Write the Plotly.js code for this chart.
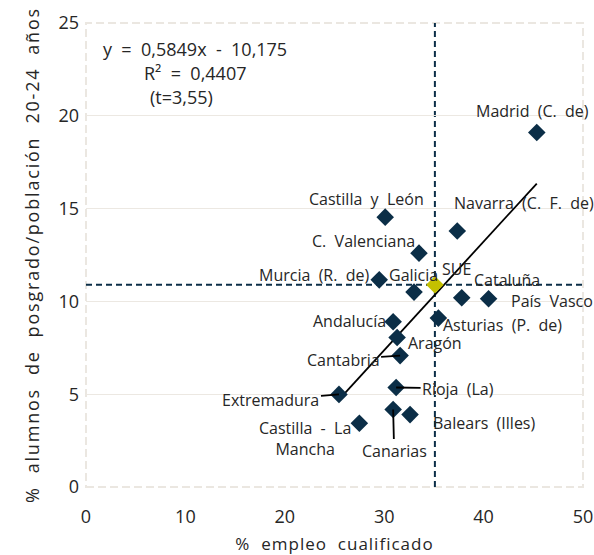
<!DOCTYPE html>
<html><head><meta charset="utf-8">
<script src="https://cdn.plot.ly/plotly-3.0.1.min.js"></script>
<style>html,body{margin:0;padding:0;background:#fff}
.g-xtitle text{letter-spacing:1px}
.g-ytitle text{letter-spacing:1.8px}</style>
</head><body>
<div id="chart" style="width:594px;height:555px"></div>
<script>
// Regions (Comunidades Autónomas)
const regions = ["Madrid (C. de)","Castilla y León","Navarra (C. F. de)","C. Valenciana","Murcia (R. de)","Galicia","Cataluña","País Vasco","Asturias (P. de)","Andalucía","Aragón","Cantabria","Rioja (La)","Extremadura","Canarias","Balears (Illes)","Castilla - La<br>Mancha"];
const empleo = [45.35, 30.1, 37.35, 33.5, 29.5, 33.0, 37.8, 40.5, 35.45, 30.9, 31.3, 31.6, 31.2, 25.45, 30.9, 32.6, 27.5];
const posgrado = [19.1, 14.54, 13.79, 12.6, 11.16, 10.5, 10.2, 10.14, 9.1, 8.9, 8.05, 7.08, 5.36, 4.99, 4.18, 3.9, 3.43];
// SUE (Sistema Universitario Español) average
const sueX = [35.1];
const sueY = [10.9];
// Trend line endpoints (y = 0,5849x - 10,175)
const trendX = [25.45, 45.35];
const trendY = [4.71, 16.35];
const eqLines = ["y = 0,5849x - 10,175", "R² = 0,4407", "(t=3,55)"];
const xTicks = [0,10,20,30,40,50];
const yTicks = [0,5,10,15,20,25];

const navy = "#0b2e47";
const FONT = "'Open Sans', sans-serif";
const TXT = "#262626";
const sp = s => s.replace(/ /g, "\u00a0\u00a0");

// label offsets (pixels) relative to each point
const labelPos = {
  "Madrid (C. de)": {dx:-4, dy:-22},
  "Castilla y León": {dx:-19, dy:-18},
  "Navarra (C. F. de)": {dx:67, dy:-28},
  "C. Valenciana": {dx:-55, dy:-12},
  "Murcia (R. de)": {dx:-65, dy:-5},
  "Galicia": {dx:-1, dy:-17},
  "Cataluña": {dx:45, dy:-18},
  "País Vasco": {dx:63, dy:2},
  "Asturias (P. de)": {dx:64, dy:7},
  "Andalucía": {dx:-44, dy:-1},
  "Aragón": {dx:38, dy:5},
  "Cantabria": {dx:-57, dy:4, arrow:true},
  "Rioja (La)": {dx:62, dy:1, arrow:true},
  "Extremadura": {dx:-68, dy:6, arrow:true},
  "Canarias": {dx:1, dy:42, arrow:true},
  "Balears (Illes)": {dx:74, dy:8},
  "Castilla - La<br>Mancha": {dx:-54, dy:15}
};

const annotations = [];
regions.forEach((r,i)=>{
  const p = labelPos[r];
  const base = {x:empleo[i], y:posgrado[i], xref:"x", yref:"y", text:sp(r),
      font:{family:FONT,size:16,color:TXT}};
  if (p.arrow) {
    annotations.push(Object.assign(base, {showarrow:true, arrowhead:0, arrowwidth:1.8,
      arrowcolor:"#000", ax:p.dx, ay:p.dy, standoff:0}));
  } else {
    annotations.push(Object.assign(base, {showarrow:false, xshift:p.dx, yshift:-p.dy,
      xanchor:"center", yanchor:"middle"}));
  }
});
annotations.push({x:sueX[0], y:sueY[0], xref:"x", yref:"y", text:"SUE", showarrow:false,
  xshift:22, yshift:16, font:{family:FONT,size:16,color:TXT}});
// equation
const eqPos = [[195,49],[195,73],[181,97]];
eqLines.forEach((t,k)=>{
  annotations.push({x:(eqPos[k][0]-86)/497, y:(487-eqPos[k][1])/464, xref:"paper", yref:"paper",
    text:sp(t), showarrow:false, xanchor:"center", yanchor:"middle",
    font:{family:FONT,size:18,color:TXT}});
});

const traces = [
  {x:trendX, y:trendY, mode:"lines", line:{color:"#000", width:1.8}, hoverinfo:"skip"},
  {x:empleo, y:posgrado, mode:"markers", marker:{symbol:"diamond", size:13.5, color:navy}, text:regions},
  {x:sueX, y:sueY, mode:"markers", marker:{symbol:"diamond", size:13.5, color:"#c4c000"}}
];

const shapes = [
  {type:"rect", xref:"paper", yref:"paper", x0:0, x1:1, y0:0, y1:1, line:{color:"#ebe7e1", width:2, dash:"8px,4px"}, layer:"below"},
  {type:"line", xref:"x", yref:"paper", x0:sueX[0], x1:sueX[0], y0:0, y1:1, line:{color:navy, width:2, dash:"6px,4px"}, layer:"below"},
  {type:"line", xref:"paper", yref:"y", x0:0, x1:1, y0:sueY[0], y1:sueY[0], line:{color:navy, width:2, dash:"6px,4px"}, layer:"below"}
];

const layout = {
  width:594, height:555,
  margin:{l:86, r:11, t:23, b:68},
  paper_bgcolor:"#fff", plot_bgcolor:"#fff",
  showlegend:false,
  font:{family:FONT, color:TXT},
  xaxis:{range:[0,50], tickvals:xTicks, showgrid:false, zeroline:false, showline:false,
    ticks:"", tickfont:{size:18}, ticklabelstandoff:17,
    title:{text:sp("% empleo cualificado"), font:{size:17}, standoff:11}},
  yaxis:{range:[0,25], tickvals:yTicks, showgrid:true, gridcolor:"#ece8e2", gridwidth:1,
    zeroline:false, showline:false, ticks:"", tickfont:{size:18}, ticklabelstandoff:6,
    title:{text:sp("% alumnos de posgrado/población 20-24 años") + "\u00a0\u00a0\u00a0", font:{size:18}, standoff:14}},
  annotations:annotations,
  shapes:shapes
};
Plotly.newPlot("chart", traces, layout, {displayModeBar:false, staticPlot:true});
</script>
</body></html>
